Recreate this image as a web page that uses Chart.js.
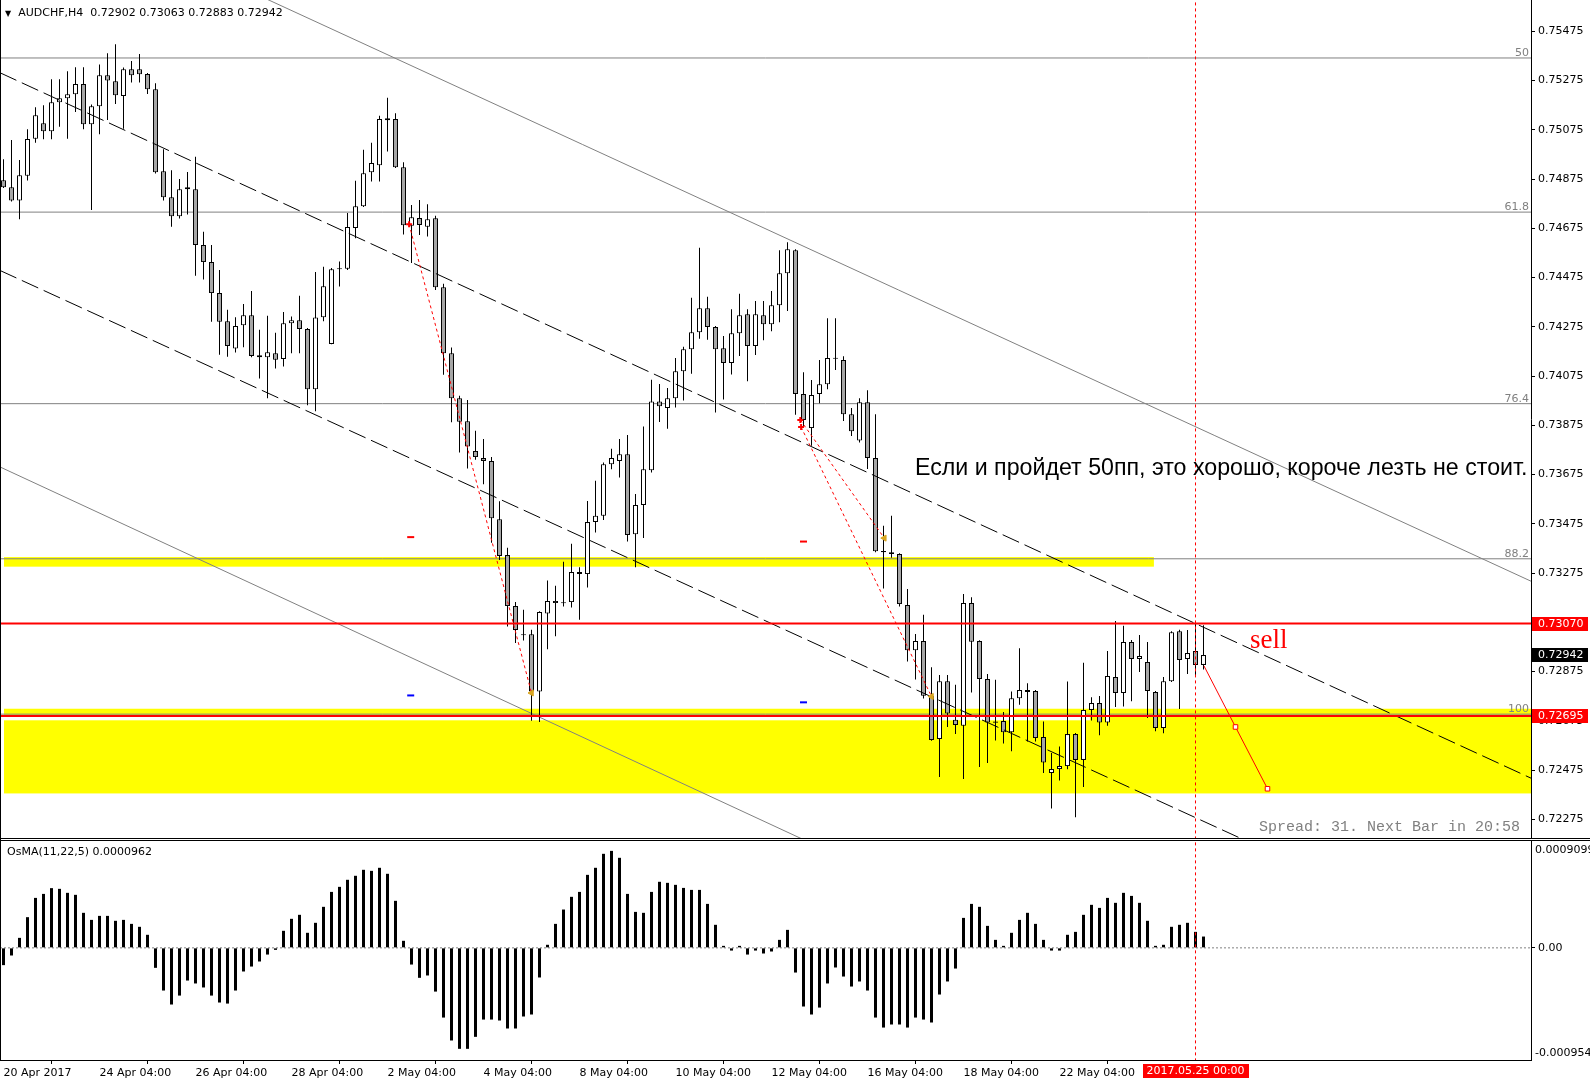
<!DOCTYPE html>
<html>
<head>
<meta charset="utf-8">
<script src="https://cdn.jsdelivr.net/npm/chart.js@4.4.0/dist/chart.umd.min.js"></script>
<style>
  body { margin: 0; background: #fff; }
  #wrap { position: relative; width: 1590px; height: 1084px; overflow: hidden; }
  canvas { position: absolute; left: 0; }
  .rule { position: absolute; background: #000; }
  .txt { position: absolute; white-space: pre; }
</style>
</head>
<body>
<div id="wrap">
  <canvas id="chart" width="1590" height="838" style="top:0"></canvas>
  <div class="rule" style="left:0;top:838px;width:1590px;height:1px"></div>
  <div class="rule" style="left:0;top:840px;width:1590px;height:1px"></div>
  <canvas id="osma" width="1590" height="243" style="top:841px"></canvas>
  <div class="rule" style="left:0;top:0;width:1px;height:1061px"></div>

  <div class="txt" style="left:5px;top:6px;font:11px/13px 'DejaVu Sans'"><span style="font-size:8px">▼</span>  AUDCHF,H4  0.72902 0.73063 0.72883 0.72942</div>
  <div class="txt" style="left:915px;top:456px;font:23.2px/23.5px 'Liberation Sans'">Если и пройдет 50пп, это хорошо, короче лезть не стоит.</div>
  <div class="txt" style="left:1250px;top:626px;font:27px/27px 'Liberation Serif';color:#ff0000">sell</div>
  <div class="txt" style="left:1259px;top:820px;font:15px/15px 'Liberation Mono';color:#808080">Spread: 31. Next Bar in 20:58</div>
  <div class="txt" style="left:7px;top:845px;font:11px/13px 'DejaVu Sans'">OsMA(11,22,5) 0.0000962</div>
</div>

<script>
// AUDCHF H4, бары с 20 Apr 2017 04:00 по 25 May 2017 04:00 (151 бар)
const opens = [
  0.74870, 0.74842, 0.74788, 0.74889, 0.75039, 0.75102, 0.75069, 0.75187, 0.75203, 0.75220,
  0.75261, 0.75098, 0.75171, 0.75297, 0.75272, 0.75213, 0.75321, 0.75321, 0.75302, 0.75240,
  0.74907, 0.74801, 0.74724, 0.74834, 0.74834, 0.74607, 0.74538, 0.74412, 0.74298, 0.74187,
  0.74282, 0.74322, 0.74160, 0.74152, 0.74168, 0.74144, 0.74290, 0.74302, 0.74266, 0.74022,
  0.74314, 0.74205, 0.74509, 0.74511, 0.74676, 0.74765, 0.74903, 0.74931, 0.75114, 0.75119,
  0.74923, 0.74686, 0.74717, 0.74682, 0.74716, 0.74436, 0.74168, 0.73985, 0.73892, 0.73771,
  0.73742, 0.73730, 0.73494, 0.73348, 0.73141, 0.73027, 0.73027, 0.72794, 0.73111, 0.73153,
  0.73152, 0.73157, 0.73279, 0.73271, 0.73482, 0.73508, 0.73717, 0.73730, 0.73758, 0.73433,
  0.73551, 0.73693, 0.73972, 0.73945, 0.73985, 0.74095, 0.74184, 0.74253, 0.74351, 0.74274,
  0.74188, 0.74128, 0.74249, 0.74326, 0.74197, 0.74322, 0.74286, 0.74363, 0.74493, 0.74586,
  0.74002, 0.73864, 0.74002, 0.74042, 0.74145, 0.74140, 0.73920, 0.73813, 0.73969, 0.73742,
  0.73365, 0.73352, 0.73352, 0.73145, 0.72962, 0.72999, 0.72777, 0.72601, 0.72836, 0.72679,
  0.72655, 0.73153, 0.72999, 0.72845, 0.72672, 0.72674, 0.72628, 0.72767, 0.72792, 0.72796,
  0.72609, 0.72463, 0.72479, 0.72491, 0.72621, 0.72516, 0.72719, 0.72747, 0.72668, 0.72853,
  0.72788, 0.72995, 0.72926, 0.72914, 0.72792, 0.72646, 0.72836, 0.73039, 0.72926, 0.72958,
  0.72902
];
const highs = [
  0.74956, 0.75034, 0.74953, 0.75078, 0.75167, 0.75175, 0.75281, 0.75281, 0.75313, 0.75329,
  0.75329, 0.75178, 0.75341, 0.75386, 0.75423, 0.75328, 0.75355, 0.75383, 0.75306, 0.75264,
  0.74996, 0.74911, 0.74875, 0.74904, 0.74966, 0.74661, 0.74607, 0.74506, 0.74344, 0.74314,
  0.74368, 0.74421, 0.74263, 0.74320, 0.74251, 0.74335, 0.74317, 0.74401, 0.74270, 0.74498,
  0.74519, 0.74514, 0.74540, 0.74737, 0.74868, 0.74994, 0.75023, 0.75132, 0.75205, 0.75143,
  0.74944, 0.74770, 0.74790, 0.74773, 0.74726, 0.74450, 0.74191, 0.73995, 0.73978, 0.73853,
  0.73820, 0.73746, 0.73567, 0.73378, 0.73158, 0.73126, 0.73045, 0.73120, 0.73245, 0.73223,
  0.73321, 0.73394, 0.73299, 0.73568, 0.73650, 0.73724, 0.73780, 0.73820, 0.73836, 0.73596,
  0.73870, 0.74060, 0.74043, 0.74027, 0.74149, 0.74194, 0.74393, 0.74596, 0.74397, 0.74278,
  0.74238, 0.74347, 0.74409, 0.74347, 0.74380, 0.74380, 0.74421, 0.74586, 0.74619, 0.74590,
  0.74091, 0.74059, 0.74140, 0.74310, 0.74310, 0.74156, 0.73945, 0.73985, 0.74018, 0.73920,
  0.73467, 0.73508, 0.73356, 0.73210, 0.73028, 0.73106, 0.72893, 0.72861, 0.72861, 0.72821,
  0.73190, 0.73177, 0.73002, 0.72865, 0.72842, 0.72711, 0.72794, 0.72970, 0.72828, 0.72800,
  0.72672, 0.72544, 0.72571, 0.72835, 0.72625, 0.72911, 0.72771, 0.72776, 0.72958, 0.73080,
  0.73061, 0.73003, 0.73023, 0.72995, 0.72796, 0.72853, 0.73039, 0.73045, 0.73044, 0.73072,
  0.73063
];
const lows = [
  0.74839, 0.74784, 0.74712, 0.74869, 0.75023, 0.75037, 0.75037, 0.75088, 0.75039, 0.75148,
  0.75078, 0.74750, 0.75057, 0.75115, 0.75180, 0.75080, 0.75267, 0.75267, 0.75221, 0.74898,
  0.74788, 0.74682, 0.74715, 0.74731, 0.74483, 0.74467, 0.74296, 0.74162, 0.74154, 0.74171,
  0.74192, 0.74152, 0.74065, 0.73985, 0.74106, 0.74114, 0.74168, 0.74168, 0.73957, 0.73932,
  0.74298, 0.74204, 0.74439, 0.74506, 0.74635, 0.74762, 0.74865, 0.74865, 0.74987, 0.74920,
  0.74650, 0.74534, 0.74648, 0.74642, 0.74425, 0.74080, 0.73888, 0.73765, 0.73700, 0.73735,
  0.73636, 0.73398, 0.73328, 0.73058, 0.72991, 0.73001, 0.72675, 0.72670, 0.72966, 0.73018,
  0.73139, 0.73135, 0.73085, 0.73216, 0.73440, 0.73491, 0.73697, 0.73663, 0.73403, 0.73299,
  0.73417, 0.73683, 0.73889, 0.73861, 0.73947, 0.73976, 0.74085, 0.74227, 0.74223, 0.73927,
  0.73980, 0.74081, 0.74157, 0.74054, 0.74161, 0.74221, 0.74257, 0.74294, 0.74339, 0.73918,
  0.73865, 0.73792, 0.73965, 0.74022, 0.74100, 0.73893, 0.73832, 0.73805, 0.73698, 0.73360,
  0.73212, 0.73337, 0.73139, 0.72916, 0.72843, 0.72766, 0.72594, 0.72447, 0.72650, 0.72621,
  0.72439, 0.72790, 0.72487, 0.72504, 0.72595, 0.72583, 0.72551, 0.72740, 0.72591, 0.72591,
  0.72463, 0.72319, 0.72433, 0.72478, 0.72283, 0.72406, 0.72676, 0.72616, 0.72655, 0.72731,
  0.72733, 0.72754, 0.72873, 0.72686, 0.72633, 0.72624, 0.72833, 0.72723, 0.72865, 0.72855,
  0.72883
];
const closes = [
  0.74842, 0.74788, 0.74891, 0.75038, 0.75134, 0.75069, 0.75187, 0.75203, 0.75220, 0.75261,
  0.75098, 0.75171, 0.75297, 0.75276, 0.75216, 0.75321, 0.75297, 0.75301, 0.75240, 0.74903,
  0.74801, 0.74724, 0.74834, 0.74842, 0.74607, 0.74538, 0.74412, 0.74296, 0.74197, 0.74278,
  0.74322, 0.74157, 0.74152, 0.74172, 0.74141, 0.74290, 0.74302, 0.74266, 0.74022, 0.74313,
  0.74440, 0.74509, 0.74513, 0.74681, 0.74765, 0.74899, 0.74940, 0.75119, 0.75122, 0.74923,
  0.74688, 0.74720, 0.74689, 0.74712, 0.74436, 0.74168, 0.73985, 0.73890, 0.73789, 0.73746,
  0.73730, 0.73498, 0.73344, 0.73141, 0.73044, 0.73022, 0.72794, 0.73117, 0.73162, 0.73162,
  0.73155, 0.73279, 0.73271, 0.73482, 0.73508, 0.73717, 0.73742, 0.73758, 0.73430, 0.73551,
  0.73697, 0.73972, 0.73953, 0.73985, 0.74095, 0.74184, 0.74253, 0.74351, 0.74274, 0.74184,
  0.74128, 0.74249, 0.74322, 0.74197, 0.74326, 0.74286, 0.74363, 0.74493, 0.74590, 0.74002,
  0.73897, 0.73998, 0.74042, 0.74148, 0.74148, 0.73920, 0.73851, 0.73969, 0.73742, 0.73364,
  0.73360, 0.73360, 0.73149, 0.72962, 0.72999, 0.72777, 0.72597, 0.72836, 0.72705, 0.72658,
  0.73153, 0.72996, 0.72845, 0.72668, 0.72667, 0.72628, 0.72767, 0.72800, 0.72800, 0.72605,
  0.72506, 0.72479, 0.72491, 0.72621, 0.72516, 0.72719, 0.72747, 0.72668, 0.72857, 0.72788,
  0.72995, 0.72926, 0.72938, 0.72796, 0.72646, 0.72836, 0.73035, 0.72922, 0.72950, 0.72902,
  0.72942
];
// OsMA(11,22,5)
const osma = [
  -0.000147, -0.000065, 0.000085, 0.000261, 0.000425, 0.000459, 0.000508, 0.000502, 0.000468, 0.000451,
  0.000298, 0.000238, 0.000272, 0.000272, 0.000230, 0.000238, 0.000204, 0.000179, 0.000111, -0.000170,
  -0.000363, -0.000482, -0.000406, -0.000278, -0.000303, -0.000337, -0.000406, -0.000465, -0.000474, -0.000363,
  -0.000201, -0.000159, -0.000116, -0.000057, -0.000017, 0.000145, 0.000247, 0.000281, 0.000128, 0.000213,
  0.000349, 0.000476, 0.000519, 0.000579, 0.000613, 0.000664, 0.000655, 0.000681, 0.000630, 0.000400,
  0.000060, -0.000142, -0.000255, -0.000235, -0.000372, -0.000593, -0.000788, -0.000859, -0.000859, -0.000757,
  -0.000610, -0.000610, -0.000618, -0.000686, -0.000686, -0.000584, -0.000567, -0.000252, 0.000026, 0.000204,
  0.000326, 0.000434, 0.000476, 0.000621, 0.000681, 0.000800, 0.000825, 0.000766, 0.000459, 0.000306,
  0.000298, 0.000476, 0.000562, 0.000553, 0.000536, 0.000510, 0.000493, 0.000493, 0.000374, 0.000196,
  0.000017, -0.000023, 0.000017, -0.000057, -0.000023, -0.000048, -0.000031, 0.000068, 0.000153, -0.000210,
  -0.000499, -0.000567, -0.000508, -0.000303, -0.000167, -0.000244, -0.000329, -0.000286, -0.000363, -0.000593,
  -0.000678, -0.000652, -0.000652, -0.000678, -0.000593, -0.000610, -0.000635, -0.000397, -0.000286, -0.000176,
  0.000255, 0.000374, 0.000349, 0.000187, 0.000068, 0.000017, 0.000128, 0.000238, 0.000298, 0.000204,
  0.000068, -0.000023, -0.000023, 0.000111, 0.000136, 0.000281, 0.000366, 0.000340, 0.000425, 0.000383,
  0.000468, 0.000442, 0.000383, 0.000230, 0.000017, 0.000026, 0.000179, 0.000196, 0.000213, 0.000136,
  0.0000962
];

// шкалы
const priceTicks = [0.75475, 0.75275, 0.75075, 0.74875, 0.74675, 0.74475, 0.74275, 0.74075, 0.73875,
  0.73675, 0.73475, 0.73275, 0.73075, 0.72875, 0.72675, 0.72475, 0.72275];
const timeTickBars = [0, 12, 24, 36, 48, 60, 72, 84, 96, 108, 120, 132];
const timeTickLabels = ['20 Apr 2017', '24 Apr 04:00', '26 Apr 04:00', '28 Apr 04:00', '2 May 04:00', '4 May 04:00',
  '8 May 04:00', '10 May 04:00', '12 May 04:00', '16 May 04:00', '18 May 04:00', '22 May 04:00'];
const osmaTop = '0.00090994', osmaBottom = '-0.0009540';
const cursorBar = 149, cursorLabel = '2017.05.25 00:00';

// объекты на графике
const fibLevels = [0.75367, 0.74741, 0.73963, 0.73333, 0.72702];
const fibNames = ['50', '61.8', '76.4', '88.2', '100'];
const redLevels = [0.73070, 0.72695];
const lastPrice = 0.72942;
// [верх, низ, бар начала, бар конца]
const yellowZones = [[0.73340, 0.73301, 0, 143.8], [0.72724, 0.72380, 0, 191]];
const zoneOverlap = [0.72693, 0.72677, 0, 135.8];

const X_MIN = -0.4375, X_MAX = 190.9375;
const dashedChannel = [[X_MIN, 0.75307, X_MAX, 0.72442], [X_MIN, 0.74504, X_MAX, 0.71658]];
const thinChannel = [[X_MIN, 0.76105, X_MAX, 0.73242], [X_MIN, 0.73706, X_MAX, 0.70822]];
const tradeOpen = [[50.7, 0.74692], [99.6, 0.73897], [99.7, 0.73868]];
const tradeClose = [[66.0, 0.72788], [110.1, 0.73417], [116.0, 0.72774]];
const stopMarks = [[50.9, 0.73421], [100.0, 0.73403]];
const takeMarks = [[50.9, 0.72778], [100.0, 0.72750]];
const projection = [[150.06, 0.72898], [154.0, 0.72650], [158.0, 0.72399]];

Chart.defaults.font.family = "'DejaVu Sans', sans-serif";
Chart.defaults.font.size = 11;
Chart.defaults.color = '#000';

const pt = a => ({x: a[0], y: a[1]});

// отрезки через разрывы null
function segments(list) {
  const pts = [];
  list.forEach(s => { pts.push({x: s[0], y: s[1]}, {x: s[2], y: s[3]}, {x: s[2], y: null}); });
  return pts;
}

function lineSet(points, color, width, dash, order) {
  return {
    type: 'line', data: points, borderColor: color, borderWidth: width, borderDash: dash || [],
    pointRadius: 0, fill: false, tension: 0, spanGaps: false, order: order
  };
}

function markSet(points, style, color, fillColor, radius, width, rotation, order) {
  return {
    type: 'line', data: points, showLine: false, pointStyle: style, pointRadius: radius,
    pointBorderColor: color, pointBackgroundColor: fillColor, pointBorderWidth: width,
    pointRotation: rotation, order: order
  };
}

const zonePlugin = {
  id: 'zones',
  beforeDatasetsDraw(chart) {
    const {ctx, chartArea: a, scales: {x, y}} = chart;
    const fillZone = (z, color) => {
      const top = y.getPixelForValue(z[0]);
      const bottom = y.getPixelForValue(z[1]);
      const left = Math.round(x.getPixelForValue(z[2]));
      const right = Math.min(x.getPixelForValue(z[3]), a.right);
      ctx.fillStyle = color;
      ctx.fillRect(left, top, right - left, bottom - top);
    };
    ctx.save();
    yellowZones.forEach(z => fillZone(z, '#ffff00'));
    fillZone(zoneOverlap, '#ffffff');   // перекрытие двух прямоугольников
    ctx.restore();
  }
};

const fibLabelPlugin = {
  id: 'fibLabels',
  afterDatasetsDraw(chart) {
    const {ctx, chartArea: a, scales: {y}} = chart;
    ctx.save();
    ctx.font = "11px 'DejaVu Sans'";
    ctx.fillStyle = '#808080';
    ctx.textAlign = 'right';
    ctx.textBaseline = 'alphabetic';
    fibLevels.forEach((v, i) => ctx.fillText(fibNames[i], a.right - 2, y.getPixelForValue(v) - 2));
    ctx.restore();
  }
};

const priceBoxPlugin = {
  id: 'priceBoxes',
  afterDraw(chart) {
    const {ctx, chartArea: a, scales: {y}} = chart;
    const boxes = [[redLevels[0], '#ff0000'], [lastPrice, '#000000'], [redLevels[1], '#ff0000']];
    ctx.save();
    ctx.font = "11px 'DejaVu Sans'";
    ctx.textBaseline = 'middle';
    boxes.forEach(([v, col]) => {
      const py = y.getPixelForValue(v);
      ctx.fillStyle = col;
      ctx.fillRect(a.right + 1, Math.round(py) - 7, 56, 14);
      ctx.fillStyle = '#ffffff';
      ctx.fillText(v.toFixed(5), a.right + 7, py + 0.5);
    });
    ctx.restore();
  }
};

const osmaPlugin = {
  id: 'osmaLabels',
  afterDraw(chart) {
    const {ctx, chartArea: a, scales: {x}} = chart;
    ctx.save();
    ctx.font = "11px 'DejaVu Sans'";
    ctx.fillStyle = '#000';
    ctx.textBaseline = 'middle';
    ctx.fillText(osmaTop, a.right + 4, a.top + 9);
    ctx.fillText(osmaBottom, a.right + 4, a.bottom - 7);
    // метка курсора времени
    const cx = x.getPixelForValue(cursorBar);
    ctx.fillStyle = '#ff0000';
    ctx.fillRect(Math.round(cx) - 53, a.bottom + 4, 106, 14);
    ctx.fillStyle = '#ffffff';
    ctx.textAlign = 'center';
    ctx.fillText(cursorLabel, cx, a.bottom + 11.5);
    ctx.restore();
  }
};

// основной график
new Chart(document.getElementById('chart'), {
  type: 'bar',
  data: {
    datasets: [
      {
        data: opens.map((o, i) => ({x: i, y: [o, closes[i]]})),
        backgroundColor: ctx => {
          const i = ctx.dataIndex;
          return closes[i] >= opens[i] ? '#ffffff' : '#a6a6a6';
        },
        borderColor: '#000', borderWidth: 1, borderSkipped: false,
        barThickness: 5, grouped: false, inflateAmount: 0, minBarLength: 1, order: 9
      },
      {
        data: highs.map((h, i) => ({x: i, y: [lows[i], h]})),
        backgroundColor: '#000', borderWidth: 0,
        barThickness: 1, grouped: false, inflateAmount: 0, order: 10
      },
      lineSet(segments(fibLevels.map(v => [X_MIN, v, X_MAX, v])), '#808080', 1, [], 20),
      lineSet(segments(thinChannel), '#808080', 1, [], 19),
      lineSet(segments(dashedChannel), '#000', 1, [18, 6], 6),
      lineSet(segments(redLevels.map(v => [X_MIN, v, X_MAX, v])), '#ff0000', 2, [], 5),
      lineSet(segments(tradeOpen.map((o, i) => [o[0], o[1], tradeClose[i][0], tradeClose[i][1]])), '#ff0000', 1, [3, 3], 4),
      markSet(tradeOpen.map(pt), 'cross', '#ff0000', '#ff0000', 3, 2, 0, 3),
      markSet(tradeClose.map(pt), 'triangle', '#daa520', '#daa520', 3.5, 1, -90, 3),
      markSet(stopMarks.map(pt), 'line', '#ff0000', '#ff0000', 3.5, 2, 0, 3),
      markSet(takeMarks.map(pt), 'line', '#0000ff', '#0000ff', 3.5, 2, 0, 3),
      Object.assign(lineSet(projection.map(pt), '#ff0000', 1, [], 2), {
        pointStyle: 'rect', pointRadius: [0, 3.2, 3.2], pointBackgroundColor: '#fff',
        pointBorderColor: '#ff0000', pointBorderWidth: 1
      }),
      lineSet([{x: cursorBar, y: 0.70}, {x: cursorBar, y: 0.78}], '#ff0000', 1, [3, 3], 1)
    ]
  },
  options: {
    responsive: false, animation: false, devicePixelRatio: 1, events: [],
    layout: {padding: 0, autoPadding: false},
    plugins: {legend: {display: false}, tooltip: {enabled: false}},
    scales: {
      x: {type: 'linear', min: X_MIN, max: X_MAX, display: false, offset: false, bounds: 'data'},
      y: {
        type: 'linear', position: 'right', min: 0.72199, max: 0.756025, bounds: 'data',
        afterBuildTicks: s => { s.ticks = priceTicks.map(v => ({value: v})); },
        afterFit: s => { s.width = 59; s.paddingTop = 0; s.paddingBottom = 0; },
        ticks: {callback: v => v.toFixed(5), autoSkip: false, padding: 3, color: '#000'},
        grid: {drawOnChartArea: false, drawTicks: true, tickLength: 4, color: '#000'},
        border: {display: true, color: '#000', width: 1}
      }
    }
  },
  plugins: [zonePlugin, fibLabelPlugin, priceBoxPlugin]
});

// OsMA
new Chart(document.getElementById('osma'), {
  type: 'bar',
  data: {
    datasets: [
      {
        data: osma.map((v, i) => ({x: i, y: v})),
        backgroundColor: '#000', borderWidth: 0, barThickness: 3, inflateAmount: 0, order: 3
      },
      lineSet(segments([[X_MIN, 0, X_MAX, 0]]), '#808080', 1, [2, 2], 5),
      lineSet([{x: cursorBar, y: -0.01}, {x: cursorBar, y: 0.01}], '#ff0000', 1, [3, 3], 1)
    ]
  },
  options: {
    responsive: false, animation: false, devicePixelRatio: 1, events: [],
    layout: {padding: 0, autoPadding: false},
    plugins: {legend: {display: false}, tooltip: {enabled: false}},
    scales: {
      x: {
        type: 'linear', position: 'bottom', min: X_MIN, max: X_MAX, offset: false, bounds: 'data',
        afterBuildTicks: s => { s.ticks = timeTickBars.map(v => ({value: v})); },
        afterFit: s => { s.height = 24; s.paddingLeft = 0; s.paddingRight = 0; },
        ticks: {
          autoSkip: false, maxRotation: 0, minRotation: 0, align: 'start', padding: 3, color: '#000',
          callback: (v, i) => timeTickLabels[i]
        },
        grid: {drawOnChartArea: false, drawTicks: true, tickLength: 4, color: '#000'},
        border: {display: true, color: '#000', width: 1}
      },
      y: {
        type: 'linear', position: 'right', min: -0.000954, max: 0.000909, bounds: 'data',
        afterBuildTicks: s => { s.ticks = [{value: 0}]; },
        afterFit: s => { s.width = 59; s.paddingTop = 0; s.paddingBottom = 0; },
        ticks: {callback: () => '0.00', padding: 3, color: '#000'},
        grid: {drawOnChartArea: false, drawTicks: true, tickLength: 4, color: '#000'},
        border: {display: true, color: '#000', width: 1}
      }
    }
  },
  plugins: [osmaPlugin]
});
</script>
</body>
</html>
